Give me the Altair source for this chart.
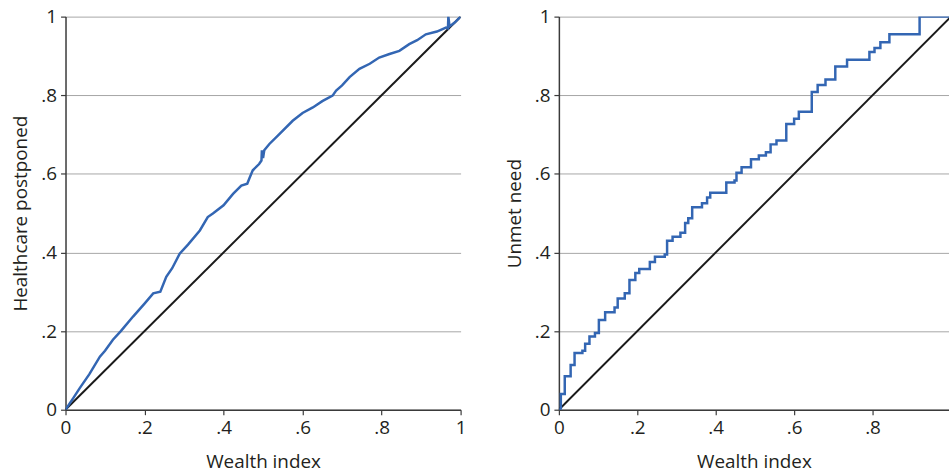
import altair as alt
import pandas as pd

# Left panel: concentration curve, healthcare postponed
left_x = [0, .02, .036, .06, .087, .10, .12, .14, .171, .20, .222, .24, .255, .27, .289, .31,
          .34, .36, .373, .40, .424, .445, .46, .466, .474, .49, .496, .497, .50, .503, .516,
          .54, .575, .60, .626, .65, .676, .685, .70, .719, .744, .77, .794, .82, .845, .87,
          .89, .912, .94, .963, .968, .969, .972, .985, 1.0]
left_y = [0, .03, .055, .09, .135, .15, .178, .20, .237, .27, .296, .30, .338, .36, .397, .42,
          .456, .49, .499, .52, .549, .57, .575, .59, .609, .625, .634, .66, .64, .66, .676,
          .70, .735, .755, .769, .785, .799, .812, .825, .846, .867, .88, .896, .905, .913, .93,
          .94, .955, .962, .972, .97, 1.0, .975, .985, 1.0]

# Right panel: concentration curve, unmet need (step function)
right_x = [0, .005, .015, .03, .04, .06, .067, .078, .092, .102, .118, .142, .15, .168, .18,
           .195, .205, .232, .245, .27, .276, .29, .31, .322, .33, .34, .365, .378, .386, .427,
           .448, .453, .466, .49, .51, .528, .54, .555, .58, .60, .612, .645, .66, .68, .705,
           .735, .792, .805, .82, .843, .92, 1.0]
right_y = [0, .04, .085, .114, .144, .15, .168, .186, .195, .228, .248, .26, .283, .296, .33,
           .348, .358, .376, .389, .395, .43, .44, .45, .475, .487, .515, .525, .54, .552, .578,
           .583, .603, .617, .637, .647, .655, .675, .685, .727, .74, .758, .808, .826, .84, .873,
           .89, .91, .92, .935, .955, 1.0, 1.0]

diag = [0, 1]
y_ticks = [0, .2, .4, .6, .8, 1]
x_ticks_left = [0, .2, .4, .6, .8, 1]
x_ticks_right = [0, .2, .4, .6, .8]

BLUE = "#3366b3"
label_expr = "datum.value == 0 ? '0' : datum.value == 1 ? '1' : replace(format(datum.value, '.1f'), '0.', '.')"

df_left = pd.DataFrame({"x": left_x, "y": left_y})
df_right = pd.DataFrame({"x": right_x, "y": right_y})
df_diag = pd.DataFrame({"x": diag, "y": diag})


def panel(df, ytitle, xticks, xmax, interp, w, h):
    xs = alt.Scale(domain=[0, xmax], nice=False, zero=True)
    ys = alt.Scale(domain=[0, 1], nice=False)
    xax = alt.Axis(values=xticks, labelExpr=label_expr, grid=False, title="Wealth index",
                   labelFlush=False)
    yax = alt.Axis(values=y_ticks, labelExpr=label_expr, grid=True, title=ytitle,
                   labelFlush=False)
    diagline = alt.Chart(df_diag).mark_line(color="#1a1a1a", strokeWidth=2, clip=True).encode(
        x=alt.X("x:Q", scale=xs, axis=xax),
        y=alt.Y("y:Q", scale=ys, axis=yax),
    )
    curve = alt.Chart(df).mark_line(color=BLUE, strokeWidth=2.5, interpolate=interp, clip=True).encode(
        x=alt.X("x:Q", scale=xs, axis=xax),
        y=alt.Y("y:Q", scale=ys, axis=yax),
    )
    return alt.layer(diagline, curve).properties(width=w, height=h)


left = panel(df_left, "Healthcare postponed", x_ticks_left, 1.0, "linear", 398, 396)
right = panel(df_right, "Unmet need", x_ticks_right, 0.995, "step-after", 393, 396)

chart = alt.hconcat(left, right, spacing=39).properties(
    padding={"left": 12, "top": 6, "right": 0, "bottom": 0}
).configure_view(stroke=None).configure_axis(
    labelFont="Open Sans", titleFont="Open Sans",
    labelFontSize=19, titleFontSize=19, titleFontWeight="normal",
    labelColor="#231f20", titleColor="#231f20",
    domainColor="#3a3a3a", domainWidth=1.5,
    tickColor="#3a3a3a", tickSize=5, tickWidth=1.2,
    gridColor="#a6a6a6", gridWidth=1,
    labelPadding=4,
).configure_axisY(titlePadding=10).configure_axisX(titlePadding=15)

chart.save("out.html", embed_options={"renderer": "svg", "actions": False})
